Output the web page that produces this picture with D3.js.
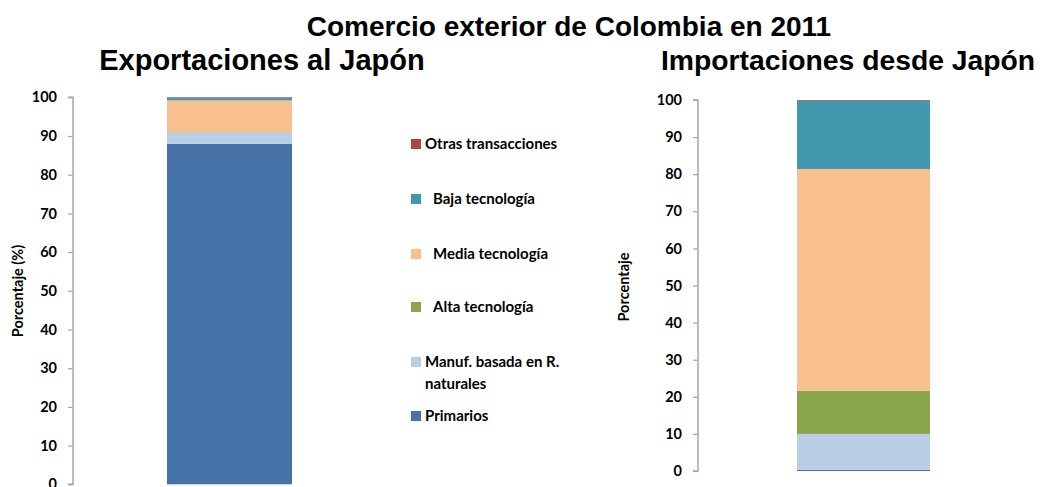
<!DOCTYPE html>
<html>
<head>
<meta charset="utf-8">
<script src="https://cdn.jsdelivr.net/npm/d3@7"></script>
<style>
  body { margin: 0; background: #fff; }
  svg { display: block; font-family: Lato, "Open Sans", sans-serif; }
</style>
</head>
<body>
<script>
// series, bottom to top of the stack
var categories = ["Primarios", "Manuf. basada en R. naturales", "Alta tecnología",
                  "Media tecnología", "Baja tecnología", "Otras transacciones"];
var colors = ["#4572a7", "#b9cde5", "#89a54e", "#f9c08f", "#4198af", "#aa4643"];

// percent shares
var exportaciones = [88.0, 2.9, 0.1, 8.2, 0.6, 0.2];
var importaciones = [0.3, 9.7, 11.6, 59.8, 18.4, 0.2];

var yTicks = [0, 10, 20, 30, 40, 50, 60, 70, 80, 90, 100];

// legend rows, top to bottom (some labels carry a leading indent as in the original)
var legendItems = [
  { cat: "Otras transacciones", lines: ["Otras transacciones"], indent: false },
  { cat: "Baja tecnología", lines: ["Baja tecnología"], indent: true },
  { cat: "Media tecnología", lines: ["Media tecnología"], indent: true },
  { cat: "Alta tecnología", lines: ["Alta tecnología"], indent: true },
  { cat: "Manuf. basada en R. naturales", lines: ["Manuf. basada en R.", "naturales"], indent: false },
  { cat: "Primarios", lines: ["Primarios"], indent: false }
];
var legendY = [144, 199, 254, 307, 362, 416];

var W = 1055, H = 487;
var svg = d3.select("body").append("svg").attr("width", W).attr("height", H);

var color = d3.scaleOrdinal().domain(categories).range(colors);

svg.append("text")
  .attr("x", 569).attr("y", 36)
  .attr("text-anchor", "middle")
  .attr("font-family", "Liberation Sans, Arial, sans-serif")
  .attr("font-weight", "bold").attr("font-size", 28)
  .text("Comercio exterior de Colombia en 2011");

function panel(opt) {
  var y = d3.scaleLinear().domain([0, 100]).range([opt.y0, opt.y100]);

  svg.append("text")
    .attr("x", opt.titleX).attr("y", 70)
    .attr("text-anchor", "middle")
    .attr("font-family", "Liberation Sans, Arial, sans-serif")
    .attr("font-weight", "bold").attr("font-size", opt.titleSize)
    .text(opt.title);

  var g = svg.append("g");

  // stacked segments
  var stack = [];
  var acc = 0;
  opt.values.forEach(function(v, i) {
    stack.push({ cat: categories[i], y0: acc, y1: acc + v });
    acc += v;
  });
  g.selectAll("rect.seg").data(stack).enter().append("rect")
    .attr("class", "seg")
    .attr("x", opt.barX0)
    .attr("width", opt.barX1 - opt.barX0)
    .attr("y", function(d) { return y(d.y1); })
    .attr("height", function(d) { return y(d.y0) - y(d.y1); })
    .attr("fill", function(d) { return color(d.cat); });

  var axis = d3.axisLeft(y).tickValues(yTicks).tickSize(5).tickPadding(11);
  var ag = g.append("g").attr("transform", "translate(" + opt.axisX + ",0)").call(axis);
  ag.select(".domain").attr("stroke", "#a6a6a6").attr("stroke-width", 1.5)
    .attr("d", "M-5," + y(100) + "H0V" + y(0) + "H-5");
  ag.selectAll(".tick line").attr("stroke", "#a6a6a6").attr("stroke-width", 1.2);
  ag.selectAll(".tick text")
    .attr("fill", "#000").attr("font-weight", "bold").attr("font-size", 14.5)
    .attr("font-family", "Lato, sans-serif");

  svg.append("text")
    .attr("transform", "translate(" + opt.labelX + "," + opt.labelY + ") rotate(-90)")
    .attr("text-anchor", "middle")
    .attr("font-weight", "bold").attr("font-size", 14.5)
    .attr("fill", "#000")
    .text(opt.ylabel);
}

panel({
  title: "Exportaciones al Japón", titleX: 262, titleSize: 29,
  values: exportaciones,
  axisX: 73, y0: 484.3, y100: 97.3,
  barX0: 167, barX1: 292,
  ylabel: "Porcentaje (%)", labelX: 23, labelY: 291
});

panel({
  title: "Importaciones desde Japón", titleX: 848, titleSize: 28.3,
  values: importaciones,
  axisX: 698, y0: 471, y100: 100,
  barX0: 797, barX1: 930,
  ylabel: "Porcentaje", labelX: 629, labelY: 287
});

// legend
var lg = svg.append("g");
legendItems.forEach(function(d, i) {
  var row = lg.append("g").attr("transform", "translate(0," + legendY[i] + ")");
  row.append("rect")
    .attr("x", 411).attr("y", -5).attr("width", 10).attr("height", 10)
    .attr("fill", color(d.cat));
  d.lines.forEach(function(t, j) {
    row.append("text")
      .attr("x", d.indent ? 433 : 425)
      .attr("y", 5 + j * 22)
      .attr("font-weight", "bold").attr("font-size", 15)
      .attr("fill", "#000")
      .text(t);
  });
});
</script>
</body>
</html>
